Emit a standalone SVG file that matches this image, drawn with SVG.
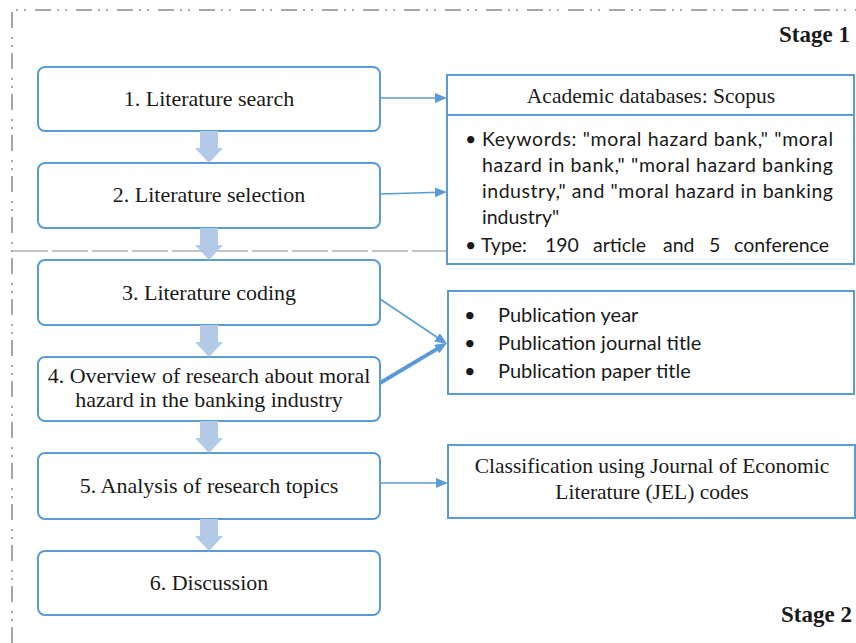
<svg xmlns="http://www.w3.org/2000/svg" width="856" height="643" viewBox="0 0 856 643">
  <defs>
    <style>
      .frame { fill: none; stroke: #a6a6a6; stroke-width: 2; stroke-dasharray: 16 6 2 6 2 9; }
      .divider { fill: none; stroke: #b0b0b0; stroke-width: 1.5; stroke-dasharray: 36 4; }
      .step rect { fill: #ffffff; stroke: #5b9bd5; stroke-width: 2; }
      .info rect { fill: #ffffff; stroke: #5b9bd5; stroke-width: 2; }
      .serif { font-family: "Liberation Serif", "Times New Roman", serif; fill: #1a1a1a; }
      .sans { font-family: Lato, "Open Sans", "Liberation Sans", sans-serif; fill: #1a1a1a; }
      .label { font-size: 22px; text-anchor: middle; }
      .note { font-size: 21.5px; text-anchor: middle; }
      .list { font-size: 19.5px; }
      .items { font-size: 20px; }
      .stage { font-size: 23px; font-weight: bold; text-anchor: end; }
      .flow { fill: #b2c9e8; }
      .link { fill: none; stroke: #5b9bd5; stroke-width: 1.6; marker-end: url(#head); }
      .link.heavy { stroke-width: 4; }
    </style>
    <marker id="head" viewBox="0 0 12 10" refX="4" refY="5" markerWidth="12" markerHeight="10" markerUnits="userSpaceOnUse" orient="auto">
      <path d="M0,0 L12,5 L0,10 z" fill="#5b9bd5"/>
    </marker>
  </defs>

  <rect width="856" height="643" fill="#ffffff"/>

  <!-- outer dash-dot frame and stage divider -->
  <path class="frame" d="M12,643 V10 H856"/>
  <path class="divider" d="M12,251 H447"/>

  <text class="serif stage" x="850" y="42">Stage 1</text>
  <text class="serif stage" x="852" y="622">Stage 2</text>

  <!-- process steps -->
  <g id="step1" class="step">
    <rect x="38" y="67" width="342" height="64" rx="7"/>
    <text class="serif label" x="209" y="106">1. Literature search</text>
  </g>
  <g id="step2" class="step">
    <rect x="38" y="163" width="342" height="65" rx="7"/>
    <text class="serif label" x="209" y="202">2. Literature selection</text>
  </g>
  <g id="step3" class="step">
    <rect x="38" y="260" width="342" height="65" rx="7"/>
    <text class="serif label" x="209" y="300">3. Literature coding</text>
  </g>
  <g id="step4" class="step">
    <rect x="38" y="357" width="342" height="64" rx="7"/>
    <text class="serif label" x="209" y="383">4. Overview of research about moral</text>
    <text class="serif label" x="209" y="407">hazard in the banking industry</text>
  </g>
  <g id="step5" class="step">
    <rect x="38" y="453" width="342" height="66" rx="7"/>
    <text class="serif label" x="209" y="493">5. Analysis of research topics</text>
  </g>
  <g id="step6" class="step">
    <rect x="38" y="551" width="342" height="64" rx="7"/>
    <text class="serif label" x="209" y="590">6. Discussion</text>
  </g>

  <!-- side information boxes -->
  <g id="databases" class="info">
    <rect x="447" y="75" width="407" height="40"/>
    <text class="serif note" x="651" y="103">Academic databases: Scopus</text>
  </g>
  <g id="keywords" class="info">
    <rect x="447" y="115" width="407" height="149"/>
    <text class="sans list" x="465" y="146">•</text>
    <text class="sans list" x="482" y="146" textLength="351" lengthAdjust="spacing">Keywords: "moral hazard bank," "moral</text>
    <text class="sans list" x="482" y="172" textLength="351" lengthAdjust="spacing">hazard in bank," "moral hazard banking</text>
    <text class="sans list" x="482" y="198" textLength="351" lengthAdjust="spacing">industry," and "moral hazard in banking</text>
    <text class="sans list" x="482" y="224">industry"</text>
    <text class="sans list" x="465" y="252">•</text>
    <text class="sans list" y="252"><tspan x="481">Type:</tspan><tspan x="545">190</tspan><tspan x="593">article</tspan><tspan x="663">and</tspan><tspan x="709">5</tspan><tspan x="734">conference</tspan></text>
  </g>
  <g id="attributes" class="info">
    <rect x="448" y="291" width="406" height="103"/>
    <text class="sans items" x="464" y="322">•</text>
    <text class="sans items" x="498" y="322">Publication year</text>
    <text class="sans items" x="464" y="350">•</text>
    <text class="sans items" x="498" y="350">Publication journal title</text>
    <text class="sans items" x="464" y="378">•</text>
    <text class="sans items" x="498" y="378">Publication paper title</text>
  </g>
  <g id="classification" class="info">
    <rect x="448" y="445" width="407" height="73"/>
    <text class="serif note" x="652" y="473">Classification using Journal of Economic</text>
    <text class="serif note" x="652" y="499">Literature (JEL) codes</text>
  </g>

  <!-- connectors -->
  <g id="connectors">
    <polygon class="flow" points="200,131 218,131 218,148 223,148 209,163 195,148 200,148"/>
    <polygon class="flow" points="200,228 218,228 218,245 223,245 209,260 195,245 200,245"/>
    <polygon class="flow" points="200,325 218,325 218,342 223,342 209,357 195,342 200,342"/>
    <polygon class="flow" points="200,421 218,421 218,438 223,438 209,453 195,438 200,438"/>
    <polygon class="flow" points="200,519 218,519 218,536 223,536 209,551 195,536 200,536"/>

    <path class="link" d="M380,98 L439,98"/>
    <path class="link" d="M380,194 L439,192.2"/>
    <path class="link" d="M380,299 L440.4,339.5"/>
    <path class="link heavy" d="M380,383 L440.1,347.1"/>
    <path class="link" d="M380,483 L440,483"/>
  </g>
</svg>
